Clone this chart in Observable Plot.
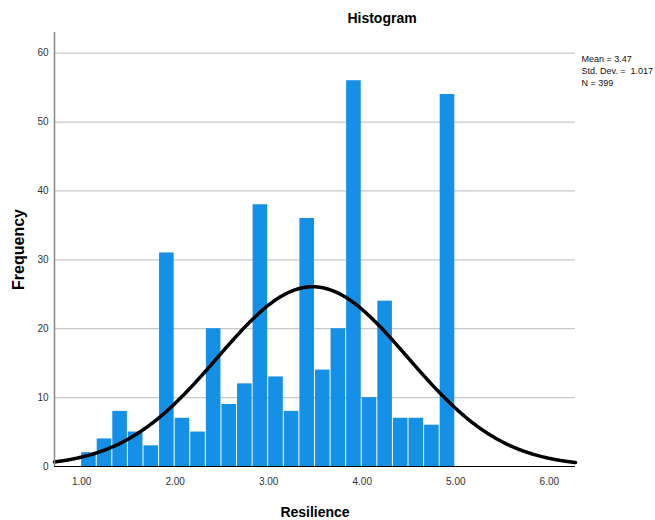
<!DOCTYPE html>
<html>
<head>
<meta charset="utf-8">
<script src="https://cdn.jsdelivr.net/npm/d3@7"></script>
<script src="https://cdn.jsdelivr.net/npm/@observablehq/plot@0.6"></script>
<style>
  html, body { margin: 0; padding: 0; background: #fff; }
  svg { display: block; font-family: "Liberation Sans", Arial, sans-serif; }
</style>
</head>
<body>
<div id="chart"></div>
<script>
// Histogram bins (lower/upper edges) and frequencies
const binLower = [1.0000, 1.1667, 1.3333, 1.5000, 1.6667, 1.8333, 2.0000, 2.1667, 2.3333, 2.5000, 2.6667, 2.8333,
                  3.0000, 3.1667, 3.3333, 3.5000, 3.6667, 3.8333, 4.0000, 4.1667, 4.3333, 4.5000, 4.6667, 4.8333];
const binUpper = [1.1667, 1.3333, 1.5000, 1.6667, 1.8333, 2.0000, 2.1667, 2.3333, 2.5000, 2.6667, 2.8333, 3.0000,
                  3.1667, 3.3333, 3.5000, 3.6667, 3.8333, 4.0000, 4.1667, 4.3333, 4.5000, 4.6667, 4.8333, 5.0000];
const counts   = [2, 4, 8, 5, 3, 31, 7, 5, 20, 9, 12, 38, 13, 8, 36, 14, 20, 56, 10, 24, 7, 7, 6, 54];

// Summary statistics shown in the legend
const mean = 3.47;
const stdDev = 1.017;
const nObs = 399;

// Axis ticks
const xTicks = [1, 2, 3, 4, 5, 6];
const yTicks = [0, 10, 20, 30, 40, 50, 60];
const legendLines = ["Mean = 3.47", "Std. Dev. =  1.017", "N = 399"];

const bins = counts.map((c, i) => ({x1: binLower[i], x2: binUpper[i], count: c}));
const binWidth = binUpper[0] - binLower[0];
const xDomain = [0.71, 6.28];
// Normal curve defined by the reported mean, SD and N (scaled to bin width)
const curve = d3.range(xDomain[0], xDomain[1] + 0.001, 0.01).map(x => ({
  x,
  y: nObs * binWidth / (stdDev * Math.sqrt(2 * Math.PI)) * Math.exp(-0.5 * ((x - mean) / stdDev) ** 2)
}));

const chart = Plot.plot({
  width: 655,
  height: 520,
  marginTop: 32,
  marginRight: 80,
  marginBottom: 54,
  marginLeft: 54,
  style: {fontFamily: '"Liberation Sans", Arial, sans-serif', fontSize: "10px", color: "#333", background: "#fff"},
  x: {domain: xDomain, ticks: xTicks, tickFormat: d => d.toFixed(2), tickSize: 0, tickPadding: 11, label: null},
  y: {domain: [0, 63], ticks: yTicks, tickSize: 0, tickPadding: 6, label: null},
  marks: [
    Plot.ruleY(yTicks.filter(d => d > 0), {stroke: "#c8c8c8", strokeWidth: 1.2}),
    Plot.rectY(bins, {x1: "x1", x2: "x2", y: "count", fill: "#1490e6", insetRight: 1}),
    Plot.line(curve, {x: "x", y: "y", stroke: "#000", strokeWidth: 3.5, curve: "linear"}),
    Plot.ruleY([0], {stroke: "#000", strokeWidth: 1.2}),
    Plot.ruleX([xDomain[0]], {stroke: "#888", strokeWidth: 1.5}),
    Plot.text(["Histogram"], {frameAnchor: "top", dx: 67, dy: -10, lineAnchor: "bottom", fontSize: 14, fontWeight: "bold", fill: "#000"}),
    Plot.text(["Resilience"], {frameAnchor: "bottom", dy: 50, lineAnchor: "bottom", fontSize: 14, fontWeight: "bold", fill: "#000"}),
    Plot.text(["Frequency"], {frameAnchor: "left", dx: -36, rotate: -90, textAnchor: "middle", fontSize: 16, fontWeight: "bold", fill: "#000"}),
    Plot.text([legendLines.join("\n")], {frameAnchor: "top-right", dx: 6, dy: 21, textAnchor: "start", lineAnchor: "top",
      lineHeight: 1.35, fontSize: 9, fill: "#111"})
  ]
});
document.getElementById("chart").appendChild(chart);
</script>
</body>
</html>
